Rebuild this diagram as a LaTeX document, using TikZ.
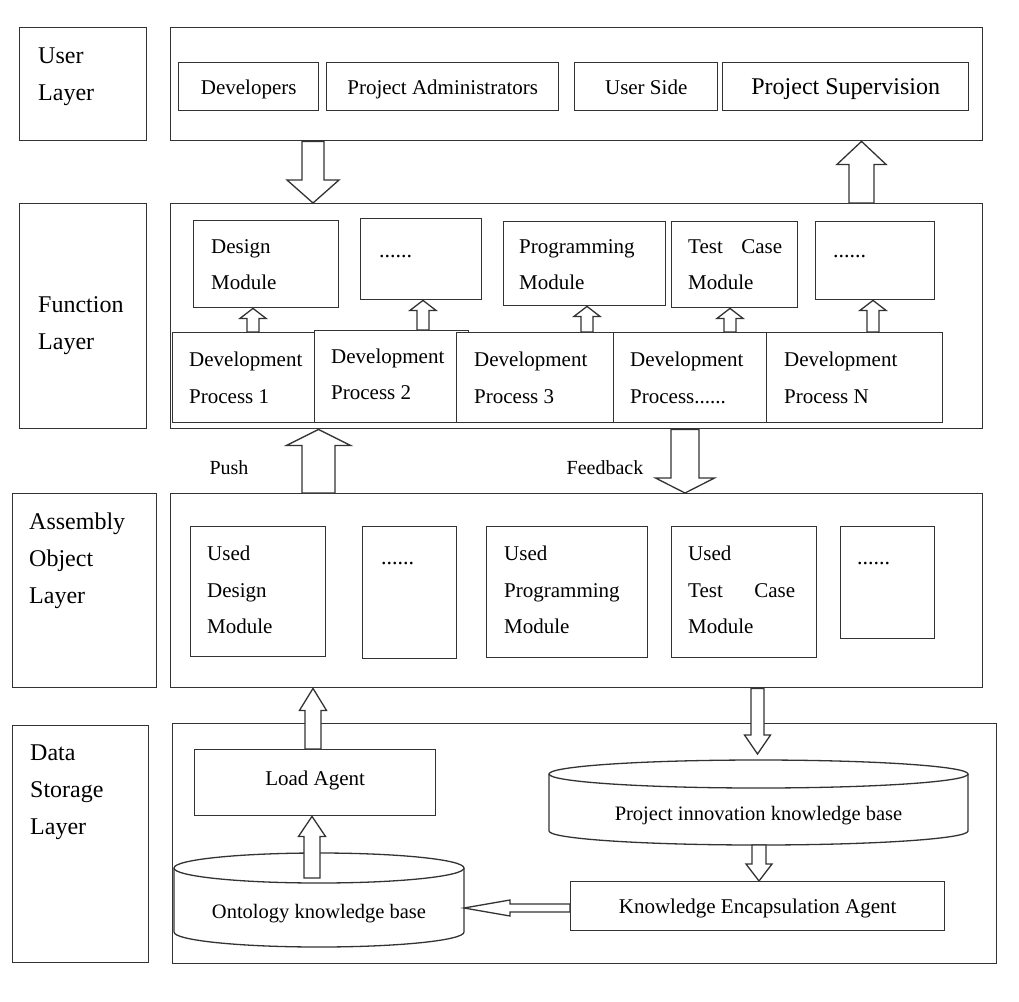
\documentclass[tikz,border=0pt]{standalone}
\usepackage{fontspec}
\setmainfont{Liberation Serif}
\usetikzlibrary{calc}
% vertical hollow block arrow: #1 x (pt), #2 start point, #3 tip point, #4 shaft half width, #5 head half width, #6 signed head length (+ up, - down)
\newcommand\varr[6]{\draw[blk] let \p1=(#2), \p2=(#3) in
  ({#1pt-#4pt},\y1) -- ({#1pt-#4pt},{\y2-(#6pt)}) -- ({#1pt-#5pt},{\y2-(#6pt)}) -- ({#1pt},\y2)
  -- ({#1pt+#5pt},{\y2-(#6pt)}) -- ({#1pt+#4pt},{\y2-(#6pt)}) -- ({#1pt+#4pt},\y1) -- cycle;}
\begin{document}
\begin{tikzpicture}[x=1pt,y=-1pt,
  box/.style={draw=black!80, line width=1.4pt, fill=white, inner sep=0pt, anchor=north west,
    text height=15pt, text depth=0pt, font=\fontsize{21}{25}\selectfont},
  blk/.style={draw=black!80, line width=1.3pt, fill=white, line join=miter},
  txt/.style={inner sep=0pt, anchor=west, align=left, font=\fontsize{21}{36.5}\selectfont},
  lbl/.style={inner sep=0pt, anchor=west, align=left, font=\fontsize{24}{37}\selectfont},
  dots/.style={inner sep=0pt, anchor=base west, font=\fontsize{22}{25}\selectfont}]
\useasboundingbox[fill=white] (0,0) rectangle (1019,1001);

% ---- left layer labels
\node[box, minimum width=127, minimum height=113] (lu) at (19,27) {};
\node[box, minimum width=127, minimum height=225] (lf) at (19,203) {};
\node[box, minimum width=144, minimum height=194] (la) at (12,493) {};
\node[box, minimum width=136, minimum height=237] (ld) at (12,725) {};
\node[lbl] (tu) at (38,76.5) {User\\Layer};
\node[lbl] (tf) at (38,325.5) {Function\\Layer};
\node[lbl] (ta) at (29,560.5) {Assembly\\Object\\Layer};
\node[lbl] (td) at (30,792) {Data\\Storage\\Layer};

% ---- layer containers
\node[box, minimum width=812, minimum height=113] (uc) at (170,27) {};
\node[box, minimum width=812, minimum height=225] (fc) at (170,203) {};
\node[box, minimum width=812, minimum height=194] (ac) at (170,493) {};
\node[box, minimum width=824, minimum height=240] (dc) at (172,723) {};

% ---- user layer
\node[box, minimum width=140, minimum height=48] (dev) at (178,62) {Developers};
\node[box, minimum width=232, minimum height=48] (pa) at (326,62) {Project Administrators};
\node[box, minimum width=143, minimum height=48] (us) at (574,62) {User Side};
\node[box, minimum width=246, minimum height=48, font=\fontsize{24}{28}\selectfont] (ps) at (722,62) {Project Supervision};

% ---- function layer modules
\node[box, minimum width=145, minimum height=87] (m1) at (193,220) {};
\node[box, minimum width=121, minimum height=81] (m2) at (360,218) {};
\node[box, minimum width=162, minimum height=84] (m3) at (503,221) {};
\node[box, minimum width=126, minimum height=86] (m4) at (671,221) {};
\node[box, minimum width=119, minimum height=78] (m5) at (815,221) {};
\node[txt] (t1) at (211,264.5) {Design\\Module};
\node[dots] (t2) at (379,257) {......};
\node[txt] (t3) at (519,264.5) {Programming\\Module};
\node[txt, text width=94] (t4) at (688,264.5) {Test\hfill Case\\Module};
\node[dots] (t5) at (833,257) {......};

% ---- development processes
\node[box, minimum width=142, minimum height=90] (p1) at (172,332) {};
\node[box, minimum width=154, minimum height=92] (p2) at (314,330) {};
\node[box, minimum width=157, minimum height=90] (p3) at (456,332) {};
\node[box, minimum width=153, minimum height=90] (p4) at (613,332) {};
\node[box, minimum width=176, minimum height=90] (p5) at (766,332) {};
\node[txt] (q1) at (189,378) {Development\\Process 1};
\node[txt] (q2) at (331,374.5) {Development\\Process 2};
\node[txt] (q3) at (474,378) {Development\\Process 3};
\node[txt] (q4) at (630,378) {Development\\Process......};
\node[txt] (q5) at (784,378) {Development\\Process N};

\varr{253}{p1.north}{m1.south}{6}{13}{10}
\varr{423}{p2.north}{m2.south}{6}{13}{10}
\varr{587}{p3.north}{m3.south}{6}{13}{10}
\varr{730}{p4.north}{m4.south}{6}{13}{10}
\varr{873}{p5.north}{m5.south}{6}{13}{10}

% ---- assembly object layer
\node[box, minimum width=135, minimum height=130] (u1) at (190,526) {};
\node[box, minimum width=94, minimum height=132] (u2) at (362,526) {};
\node[box, minimum width=161, minimum height=131] (u3) at (486,526) {};
\node[box, minimum width=145, minimum height=131] (u4) at (671,526) {};
\node[box, minimum width=94, minimum height=112] (u5) at (840,526) {};
\node[txt] (v1) at (207,590) {Used\\Design\\Module};
\node[dots] (v2) at (381,564) {......};
\node[txt] (v3) at (504,590) {Used\\Programming\\Module};
\node[txt, text width=107] (v4) at (688,590) {Used\\Test\hfill Case\\Module};
\node[dots] (v5) at (857,564) {......};

% ---- data storage layer
\node[box, minimum width=241, minimum height=66, text depth=10pt] (load) at (194,749) {Load Agent};
\node[box, minimum width=374, minimum height=49] (kea) at (570,881) {Knowledge Encapsulation Agent};
% project innovation knowledge base (cylinder)
\draw[blk] (549,774) -- (549,831) arc[start angle=180, end angle=360, x radius=209.5pt, y radius=14pt] -- (968,774);
\draw[blk] (758.5,774) ellipse [x radius=209.5pt, y radius=14pt];
\node[txt, anchor=center, font=\fontsize{20.5}{25}\selectfont] (pk) at (758.5,816) {Project innovation knowledge base};
% ontology knowledge base (cylinder)
\draw[blk] (174,868) -- (174,932) arc[start angle=180, end angle=360, x radius=145pt, y radius=15pt] -- (464,868);
\draw[blk] (319,868) ellipse [x radius=145pt, y radius=15pt];
\node[txt, anchor=center, font=\fontsize{20.5}{25}\selectfont] (ok) at (319,914) {Ontology knowledge base};
\coordinate (pktop) at (757.5,754);
\coordinate (pkbot) at (759,845);
\coordinate (okin) at (312,878);
\coordinate (okright) at (464,908);

% ---- big arrows between layers
\varr{313}{uc.south}{fc.north}{11}{26}{-23}
\varr{861.5}{fc.north}{uc.south}{12.5}{24.5}{23}
\varr{318.5}{ac.north}{fc.south}{16.5}{32}{16}
\varr{685}{fc.south}{ac.north}{14}{29.5}{-15}
\node[txt, anchor=center, font=\fontsize{20}{24}\selectfont] (push) at (229,468) {Push};
\node[txt, anchor=center, font=\fontsize{20}{24}\selectfont] (fb) at (605,468) {Feedback};

\varr{313}{load.north}{ac.south}{8}{13.5}{22}
\varr{312}{okin}{load.south}{8}{13.5}{20}
\varr{757.5}{ac.south}{pktop}{6.5}{13}{-19}
\varr{759}{pkbot}{kea.north}{7}{13}{-17}
% knowledge encapsulation agent -> ontology (leftward)
\draw[blk] let \p1=(kea.west), \p2=(okright) in
  (\x1,{\y2-4pt}) -- ({\x2+46pt},{\y2-4pt}) -- ({\x2+46pt},{\y2-8pt}) -- (\x2,\y2)
  -- ({\x2+46pt},{\y2+8pt}) -- ({\x2+46pt},{\y2+4pt}) -- (\x1,{\y2+4pt}) -- cycle;
\end{tikzpicture}
\end{document}
